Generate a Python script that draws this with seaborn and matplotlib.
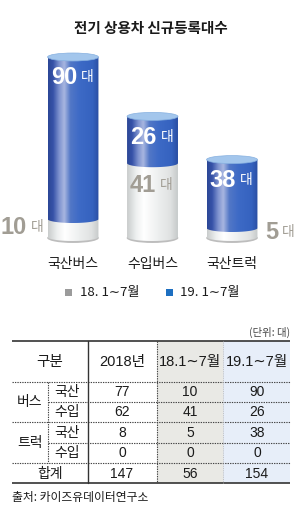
import numpy as np
import pandas as pd
import matplotlib
matplotlib.use('Agg')
import matplotlib.pyplot as plt
import seaborn as sns
from matplotlib.patches import Ellipse, Rectangle, PathPatch
from matplotlib.path import Path
from matplotlib.colors import LinearSegmentedColormap

# ---------------- data ----------------
categories = ['국산버스', '수입버스', '국산트럭']
series_names = ['18. 1∼7월', '19. 1∼7월']
values_18 = [10, 41, 5]
values_19 = [90, 26, 38]
unit = '대'
title = '전기 상용차 신규등록대수'

table_header = ['구분', '2018년', '18.1∼7월', '19.1∼7월']
row_groups = ['버스', '트럭']
row_subs = ['국산', '수입', '국산', '수입']
col_2018 = [77, 62, 8, 0]
col_18 = [10, 41, 5, 0]
col_19 = [90, 26, 38, 0]
total_label = '합계'
totals = [147, 56, 154]
unit_note = '(단위: 대)'
source = '출처: 카이즈유데이터연구소'

# ---------------- style ----------------
sns.set_theme(style='white')
KR = ['Noto Sans CJK KR', 'DejaVu Sans']
NUM = ['Liberation Sans', 'Noto Sans CJK KR', 'DejaVu Sans']
BIGNUM = ['Liberation Sans Narrow', 'Liberation Sans', 'DejaVu Sans']
plt.rcParams['font.family'] = KR

BLUE = '#3a66c0'
WHITE = '#eeeeee'
GRAYTXT = '#a19d94'
LEG_GRAY = '#9b9b9b'
LEG_BLUE = '#1d6fc1'
DARK = '#1a1a1a'

W, H = 300, 511
fig = plt.figure(figsize=(W / 100, H / 100), dpi=100)
fig.patch.set_facecolor('white')

ov = fig.add_axes([0, 0, 1, 1])
ov.set_xlim(0, W)
ov.set_ylim(H, 0)
ov.axis('off')

top_px, bot_px, base_px, pxu = 40, 250, 237, 1.8
c0_px, step_px = 73, 79.5
ax = fig.add_axes([0, 1 - bot_px / H, 1, (bot_px - top_px) / H])
ax.set_zorder(2)
ax.patch.set_alpha(0)

df = pd.DataFrame({'cat': categories, 'v18': values_18,
                   'total': [a + b for a, b in zip(values_18, values_19)]})
bw = 0.64
sns.barplot(data=df, x='cat', y='total', color=BLUE, width=bw, saturation=1,
            errorbar=None, ax=ax)
blue_bars = list(ax.patches)
sns.barplot(data=df, x='cat', y='v18', color=WHITE, width=bw, saturation=1,
            errorbar=None, ax=ax)
white_bars = [p for p in ax.patches if p not in blue_bars]

xlim = (-c0_px / step_px, (W - c0_px) / step_px)
ylim = (-(bot_px - base_px) / pxu, (base_px - top_px) / pxu)
eh = 8 / pxu  # ellipse height in data units

blue_cmap = LinearSegmentedColormap.from_list('b', [
    (0.0, '#2b4796'), (0.1, '#3652a8'), (0.22, '#7f93cf'), (0.32, '#a8b6e0'),
    (0.44, '#5277c6'), (0.62, '#3d6ac6'), (0.88, '#3562bf'), (1.0, '#2a4ea2')])
white_cmap = LinearSegmentedColormap.from_list('w', [
    (0.0, '#c9cccc'), (0.18, '#eef0f0'), (0.33, '#ffffff'), (0.6, '#eef0f0'),
    (0.85, '#e0e2e2'), (1.0, '#c6caca')])


def cyl_path(x0, x1, ylo, yhi, h):
    t = np.linspace(0, np.pi, 80)
    cx, a, b = (x0 + x1) / 2, (x1 - x0) / 2, h / 2
    verts = [(x0, yhi), (x1, yhi)] + list(zip(cx + a * np.cos(t), ylo - b * np.sin(t))) + [(x0, yhi)]
    return Path(verts)


def grad_fill(x0, x1, ylo, yhi, cmap, z):
    g = np.linspace(0, 1, 256)[None, :]
    im = ax.imshow(g, cmap=cmap, extent=[x0, x1, ylo - eh, yhi], aspect='auto',
                   origin='lower', interpolation='bilinear', zorder=z)
    pp = PathPatch(cyl_path(x0, x1, ylo, yhi, eh), transform=ax.transData,
                   facecolor='none', edgecolor='none')
    im.set_clip_path(pp)


def value_label(x, y, num, dx_px, dy_px, color):
    ax.annotate(str(num), (x, y), xytext=(dx_px * 0.72, dy_px * 0.72),
                textcoords='offset points', ha='right', va='center',
                fontsize=17, fontweight='bold', family=BIGNUM, color=color, zorder=8)
    ax.annotate(unit, (x, y), xytext=((dx_px + 4) * 0.72, dy_px * 0.72 + 0.5),
                textcoords='offset points', ha='left', va='center',
                fontsize=10, family=KR, color=color, zorder=8)


gray_side = ['left', 'inside', 'right']
for i, (bb, wb) in enumerate(zip(blue_bars, white_bars)):
    x0 = bb.get_x()
    x1 = x0 + bb.get_width()
    cx = (x0 + x1) / 2
    tot = bb.get_height()
    v18 = wb.get_height()
    # base shadow
    ax.add_patch(Ellipse((cx, -eh * 0.12), x1 - x0 + 0.01, eh * 1.25,
                         facecolor='#bdbdbd', edgecolor='none', zorder=2.5))
    grad_fill(x0, x1, 0, v18, white_cmap, 3)
    grad_fill(x0, x1, v18, tot, blue_cmap, 4)
    ax.add_patch(Ellipse((cx, tot), x1 - x0, eh, facecolor='#a3c6ec',
                         edgecolor='#86b0e0', lw=0.5, zorder=5))
    value_label(cx, tot, values_19[i], 4, -21, 'white')
    side = gray_side[i]
    if side == 'inside':
        value_label(cx, v18, values_18[i], 3, -22, GRAYTXT)
    elif side == 'left':
        value_label(cx, v18 / 2, values_18[i], -46, 0, GRAYTXT)
    else:
        value_label(cx, v18 / 2, values_18[i], 46, 0, GRAYTXT)

ax.set_xlim(*xlim)
ax.set_ylim(*ylim)
ax.set_xlabel('')
ax.set_ylabel('')
ax.set_yticks([])
for s in ax.spines.values():
    s.set_visible(False)
ax.tick_params(axis='x', length=0, pad=5, labelsize=10, labelcolor=DARK)
for lab in ax.get_xticklabels():
    lab.set_family(KR)
    lab.set_fontweight('medium')

# title
ov.text(151, 28, title, ha='center', va='center', fontsize=10.5, color=DARK,
        fontweight='bold')

# legend
for (sx, tx), name, col in zip([(65, 80), (166, 180)], series_names, [LEG_GRAY, LEG_BLUE]):
    ov.add_patch(Rectangle((sx, 289), 7, 7, facecolor=col, edgecolor='none'))
    ov.text(tx, 292.5, name, ha='left', va='center', fontsize=9.5, color=DARK, family=KR)

# ---------------- table ----------------
L, R = 12, 290
T, B = 341, 483
xc = [48, 88, 157, 223]
ov.add_patch(Rectangle((xc[2], T), xc[3] - xc[2], B - T, facecolor='#e9e9e5', edgecolor='none'))
ov.add_patch(Rectangle((xc[3], T), R - xc[3], B - T, facecolor='#e7eef9', edgecolor='none'))
ov.plot([L, R], [T, T], color='#333333', lw=1.2, solid_capstyle='butt')
ov.plot([L, R], [B, B], color='#333333', lw=1.2, solid_capstyle='butt')
dot = dict(color='#444444', lw=0.8, ls=(0, (1.2, 1.0)))
ov.plot([L, R], [382, 382], **dot)
ov.plot([xc[0], R], [402, 402], **dot)
ov.plot([L, R], [422, 422], **dot)
ov.plot([xc[0], R], [443, 443], **dot)
ov.plot([L, R], [463, 463], **dot)
ov.plot([xc[1], xc[1]], [T, B], color='#333333', lw=1.0)
ov.plot([xc[0], xc[0]], [382, 463], **dot)
ov.plot([xc[2], xc[2]], [T, B], **dot)
ov.plot([xc[3], xc[3]], [T, B], color='#bbbbbb', lw=0.6, ls=(0, (1.2, 1.0)))

ov.text(R, 332, unit_note, ha='right', va='center', fontsize=7.5, color='#444444', family=KR)

col_x = [50, 122, 190, 257]
for x, t in zip(col_x, table_header):
    ov.text(x, 362, t, ha='center', va='center', fontsize=10.5, color=DARK, family=NUM)

row_y = [392, 412, 433, 453]
for g, gy in zip(row_groups, [402, 443]):
    ov.text(30, gy, g, ha='center', va='center', fontsize=10, color=DARK, family=KR)
for y, s, a, b, c in zip(row_y, row_subs, col_2018, col_18, col_19):
    ov.text(67, y, s, ha='center', va='center', fontsize=10, color=DARK, family=KR)
    for x, v in zip(col_x[1:], [a, b, c]):
        ov.text(x, y, str(v), ha='center', va='center', fontsize=10, color=DARK, family=NUM)
ov.text(50, 474, total_label, ha='center', va='center', fontsize=10, color=DARK, family=KR)
for x, v in zip(col_x[1:], totals):
    ov.text(x, 474, str(v), ha='center', va='center', fontsize=10, color=DARK, family=NUM)

ov.text(L, 497, source, ha='left', va='center', fontsize=8.5, color=DARK, family=KR)

fig.savefig('out.png', dpi=100, facecolor='white')
